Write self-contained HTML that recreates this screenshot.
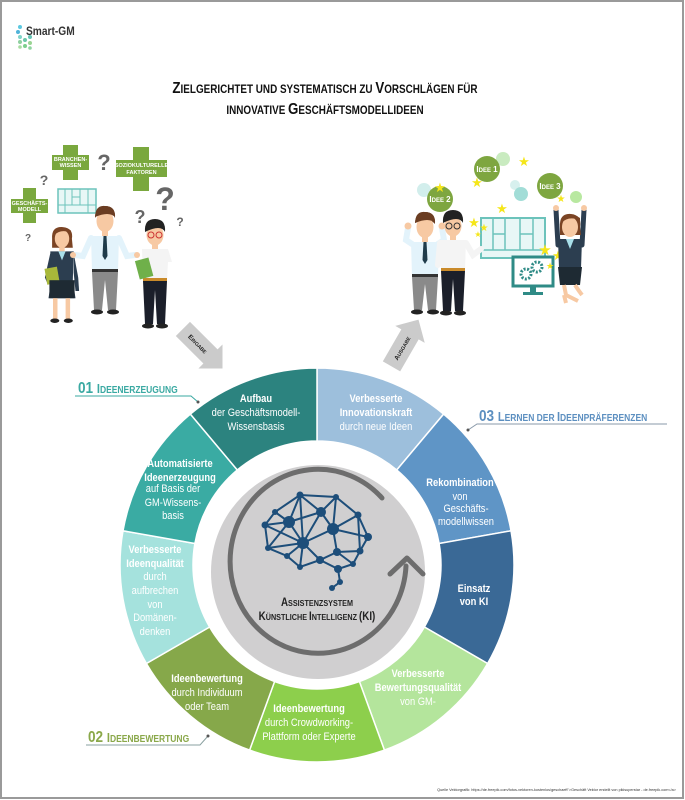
<!DOCTYPE html>
<html><head><meta charset="utf-8"><style>
html,body{margin:0;padding:0;background:#fff}
svg{display:block}
text{font-family:"Liberation Sans",sans-serif}
</style></head><body>
<svg width="685" height="800" viewBox="0 0 685 800" xmlns="http://www.w3.org/2000/svg">
<rect x="1" y="1" width="682" height="797" fill="#fff" stroke="#9a9a9a" stroke-width="2"/>

<!-- logo -->
<g>
<circle cx="20" cy="27" r="2" fill="#5cc8e0"/><circle cx="18" cy="32" r="2" fill="#4fb3d9"/>
<circle cx="20" cy="37" r="2" fill="#7fd4c8"/><circle cx="25" cy="40" r="2" fill="#6cc7a8"/>
<circle cx="20" cy="42" r="2" fill="#8fd0a0"/><circle cx="30" cy="37" r="2" fill="#66c4b5"/>
<circle cx="30" cy="43" r="2" fill="#9ad493"/><circle cx="25" cy="46" r="2" fill="#7ccf8d"/>
<circle cx="20" cy="47" r="1.8" fill="#a6dca0"/><circle cx="30" cy="48" r="1.8" fill="#8fd4a0"/>
<text x="26" y="35" font-size="12" font-weight="bold" fill="#333" transform="translate(26,0) scale(.85,1) translate(-26,0)">Smart-GM</text>
</g>

<!-- title -->
<g font-weight="bold" fill="#111" text-anchor="middle">
<text x="325" y="93" font-size="15.5" transform="translate(325,0) scale(.86,1) translate(-325,0)">Z<tspan font-size="11.5">IELGERICHTET UND SYSTEMATISCH ZU </tspan>V<tspan font-size="11.5">ORSCHLÄGEN FÜR</tspan></text>
<text x="325" y="114" font-size="15.5" transform="translate(325,0) scale(.86,1) translate(-325,0)"><tspan font-size="11.5">INNOVATIVE </tspan>G<tspan font-size="11.5">ESCHÄFTSMODELLIDEEN</tspan></text>
</g>

<!-- LEFT ILLUSTRATION -->
<g>
<!-- crosses -->
<g fill="#7aa83e">
<rect x="23" y="188" width="13" height="35"/><rect x="11" y="199" width="37" height="14"/>
<rect x="63" y="145" width="15" height="35"/><rect x="52" y="155" width="37" height="15"/>
<rect x="133" y="147" width="16" height="44"/><rect x="116" y="160" width="51" height="17"/>
</g>
<g fill="#fff" font-weight="bold" text-anchor="middle" font-size="5.5">
<text x="29.5" y="205">GESCHÄFTS-</text><text x="29.5" y="211">MODELL</text>
<text x="70.5" y="161">BRANCHEN-</text><text x="70.5" y="167">WISSEN</text>
<text x="141.5" y="167">SOZIOKULTURELLE</text><text x="141.5" y="174">FAKTOREN</text>
</g>
<!-- board -->
<rect x="58" y="189" width="38" height="24" fill="#e8f7f6" stroke="#6cc3bb" stroke-width="1.5"/>
<path d="M65,189V213M72,189V205M80,189V205M88,189V213M58,205H96M72,197H80" stroke="#6cc3bb" stroke-width="1" fill="none"/>
<!-- question marks -->
<g fill="#666" font-weight="bold" text-anchor="middle">
<text x="104" y="170" font-size="22">?</text>
<text x="44" y="185" font-size="14">?</text>
<text x="28" y="241" font-size="10">?</text>
<text x="165" y="210" font-size="32">?</text>
<text x="140" y="223" font-size="18">?</text>
<text x="180" y="226" font-size="12">?</text>
</g>
<!-- woman -->
<g transform="translate(62,228) scale(.9)">
<path d="M-11,12 Q-12,-2 1,-1 Q13,0 11,12 L12,22 L-11,22Z" fill="#7b4424"/>
<ellipse cx="0" cy="12" rx="8" ry="10" fill="#f7c9a3"/>
<path d="M-9,8 Q0,0 10,6 L10,3 Q0,-4 -9,4Z" fill="#7b4424"/>
<rect x="-3" y="20" width="6" height="6" fill="#f7c9a3"/>
<path d="M-13,26 L13,26 L12,58 L15,78 L-15,78 L-12,58Z" fill="#2c3e50"/>
<path d="M-4,26 L4,26 L0,36Z" fill="#a9e0ea"/>
<path d="M-13,28 L-19,55 L-16,62 L-10,40Z" fill="#2c3e50"/>
<path d="M13,28 L18,55 L19,70 L15,70 L13,50Z" fill="#2c3e50"/>
<rect x="-18" y="44" width="14" height="18" fill="#a8b83a" transform="rotate(-10 -11 53)"/>
<rect x="-14" y="58" width="28" height="20" fill="#1e2a33"/>
<rect x="-10" y="78" width="5" height="24" fill="#f7c9a3"/><rect x="4" y="78" width="5" height="24" fill="#f7c9a3"/>
<ellipse cx="-8" cy="103" rx="5" ry="2.5" fill="#222"/><ellipse cx="7" cy="103" rx="5" ry="2.5" fill="#222"/>
</g>
<!-- man shrugging -->
<g transform="translate(105,208)">
<path d="M-10,10 Q-10,-3 0,-2 Q11,-2 10,10 L8,6 Q0,3 -8,7Z" fill="#6b3d22"/>
<ellipse cx="0" cy="13" rx="8.5" ry="11" fill="#f7c9a3"/>
<path d="M-10,9 Q-9,-2 0,-2 Q10,-2 10,9 Q4,3 -10,9Z" fill="#6b3d22"/>
<rect x="-3" y="23" width="6" height="5" fill="#f7c9a3"/>
<path d="M-14,28 L14,28 L13,63 L-13,63Z" fill="#e3f3fb"/>
<path d="M-14,30 L-22,48 L-30,47" stroke="#e3f3fb" stroke-width="6" fill="none" stroke-linecap="round"/>
<path d="M14,30 L22,48 L30,47" stroke="#e3f3fb" stroke-width="6" fill="none" stroke-linecap="round"/>
<circle cx="-32" cy="47" r="3" fill="#f7c9a3"/><circle cx="32" cy="47" r="3" fill="#f7c9a3"/>
<path d="M-1.5,28 L1.5,28 L2.5,48 L0,52 L-2.5,48Z" fill="#1f3b4a"/>
<rect x="-13" y="61" width="26" height="3" fill="#333"/>
<path d="M-13,64 L13,64 L11,102 L3,102 L0,72 L-3,102 L-11,102Z" fill="#8a8a8a"/>
<ellipse cx="-8" cy="104" rx="6" ry="2.5" fill="#222"/><ellipse cx="8" cy="104" rx="6" ry="2.5" fill="#222"/>
</g>
<!-- man with glasses -->
<g transform="translate(155,222)">
<ellipse cx="0" cy="13" rx="8.5" ry="10.5" fill="#f7c9a3"/>
<path d="M-10,10 Q-11,-3 0,-3 Q11,-3 10,10 Q6,2 -10,10Z" fill="#222"/>
<circle cx="-4" cy="13" r="3" fill="none" stroke="#c33" stroke-width="1"/><circle cx="4" cy="13" r="3" fill="none" stroke="#c33" stroke-width="1"/>
<rect x="-3" y="22" width="6" height="5" fill="#f7c9a3"/>
<path d="M-13,27 L13,27 L17,40 L13,40 L12,58 L-12,58Z" fill="#f4f4f4"/>
<rect x="-12" y="56" width="24" height="3" fill="#c98a2a"/>
<rect x="-18" y="37" width="14" height="19" fill="#6fb04a" transform="rotate(-15 -11 46)"/>
<path d="M-12,59 L12,59 L10,102 L2,102 L0,68 L-2,102 L-10,102Z" fill="#1b1f2a"/>
<ellipse cx="-7" cy="104" rx="6" ry="2.5" fill="#222"/><ellipse cx="7" cy="104" rx="6" ry="2.5" fill="#222"/>
</g>
<!-- Eingabe arrow -->
<g transform="translate(202,348) rotate(45)">
<path d="M-27,-10 L12,-10 L12,-17 L29,0 L12,17 L12,10 L-27,10Z" fill="#cbcbcb"/>
<text x="-6" y="2.5" font-size="6.5" font-weight="bold" fill="#222" text-anchor="middle">E<tspan font-size="5">INGABE</tspan></text>
</g>
</g>

<!-- RIGHT ILLUSTRATION -->
<g>
<circle cx="503" cy="159" r="7" fill="#c9ebc0"/>
<circle cx="424" cy="190" r="7" fill="#d2eeec"/>
<circle cx="515" cy="185" r="5" fill="#d7f0ee"/>
<circle cx="521" cy="194" r="7" fill="#a2ddd7"/>
<circle cx="576" cy="197" r="6" fill="#b8e8a0"/>
<g fill="#7ea640"><circle cx="487" cy="169" r="13"/><circle cx="440" cy="199" r="13"/><circle cx="550" cy="186" r="13"/></g>
<g fill="#fff" font-weight="bold" font-size="8" text-anchor="middle">
<text x="487" y="172">I<tspan font-size="6">DEE</tspan> 1</text>
<text x="440" y="202">I<tspan font-size="6">DEE</tspan> 2</text>
<text x="550" y="189">I<tspan font-size="6">DEE</tspan> 3</text>
</g>
<!-- board -->
<rect x="481" y="218" width="64" height="40" fill="#e8f7f6" stroke="#6cc3bb" stroke-width="2"/>
<path d="M493,218V250M505,218V250M520,218V250M533,218V250M481,250H545M493,234H505M520,234H533" stroke="#6cc3bb" stroke-width="1.5" fill="none"/>
<!-- monitor -->
<rect x="513" y="257" width="40" height="29" fill="#fff" stroke="#2f8b86" stroke-width="3"/>
<rect x="530" y="286" width="6" height="6" fill="#2f8b86"/><rect x="523" y="292" width="20" height="3" fill="#2f8b86"/>
<circle cx="526" cy="274" r="5" fill="none" stroke="#2f8b86" stroke-width="3" stroke-dasharray="2 1.5"/>
<circle cx="537" cy="267" r="5" fill="none" stroke="#2f8b86" stroke-width="3" stroke-dasharray="2 1.5"/>
<!-- stars -->
<g fill="#f5e619" font-size="13" text-anchor="middle">
<text x="524" y="166">★</text><text x="477" y="187">★</text><text x="440" y="192">★</text>
<text x="502" y="213">★</text><text x="474" y="227">★</text><text x="484" y="231" font-size="10">★</text>
<text x="478" y="237" font-size="8">★</text><text x="561" y="202" font-size="10">★</text>
<text x="545" y="255" font-size="15">★</text><text x="558" y="260" font-size="13">★</text><text x="550" y="269" font-size="9">★</text>
</g>
<!-- man arms up -->
<g transform="translate(425,214)">
<path d="M-10,10 Q-10,-3 0,-2 Q11,-2 10,10 Q4,3 -10,9Z" fill="#6b3d22"/>
<ellipse cx="0" cy="13" rx="8.5" ry="11" fill="#f7c9a3"/>
<path d="M-10,9 Q-9,-2 0,-2 Q10,-2 10,9 Q4,3 -10,9Z" fill="#6b3d22"/>
<rect x="-3" y="23" width="6" height="5" fill="#f7c9a3"/>
<path d="M-14,28 L14,28 L13,62 L-13,62Z" fill="#e3f3fb"/>
<path d="M-13,30 L-19,26 L-17,14" stroke="#e3f3fb" stroke-width="6" fill="none" stroke-linecap="round"/>
<path d="M13,30 L19,26 L17,14" stroke="#e3f3fb" stroke-width="6" fill="none" stroke-linecap="round"/>
<circle cx="-17" cy="12" r="3.5" fill="#f7c9a3"/><circle cx="17" cy="12" r="3.5" fill="#f7c9a3"/>
<path d="M-1.5,28 L1.5,28 L2.5,46 L0,50 L-2.5,46Z" fill="#1f3b4a"/>
<rect x="-13" y="60" width="26" height="3" fill="#333"/>
<path d="M-13,63 L13,63 L11,96 L3,96 L0,70 L-3,96 L-11,96Z" fill="#8a8a8a"/>
<ellipse cx="-8" cy="98" rx="6" ry="2.5" fill="#222"/><ellipse cx="8" cy="98" rx="6" ry="2.5" fill="#222"/>
</g>
<!-- man glasses 2 -->
<g transform="translate(453,213)">
<ellipse cx="0" cy="13" rx="8.5" ry="10.5" fill="#f7c9a3"/>
<path d="M-10,10 Q-11,-3 0,-3 Q11,-3 10,10 Q6,2 -10,10Z" fill="#222"/>
<circle cx="-4" cy="13" r="3" fill="none" stroke="#333" stroke-width="1"/><circle cx="4" cy="13" r="3" fill="none" stroke="#333" stroke-width="1"/>
<rect x="-3" y="22" width="6" height="5" fill="#f7c9a3"/>
<path d="M-13,27 L13,27 L12,57 L-12,57Z" fill="#f4f4f4"/>
<path d="M13,30 L20,42 L28,36" stroke="#f4f4f4" stroke-width="6" fill="none" stroke-linecap="round"/>
<path d="M-13,30 L-15,52" stroke="#f4f4f4" stroke-width="6" fill="none" stroke-linecap="round"/>
<rect x="-12" y="55" width="24" height="3" fill="#c98a2a"/>
<path d="M-12,58 L12,58 L10,98 L2,98 L0,66 L-2,98 L-10,98Z" fill="#1b1f2a"/>
<ellipse cx="-7" cy="100" rx="6" ry="2.5" fill="#222"/><ellipse cx="7" cy="100" rx="6" ry="2.5" fill="#222"/>
</g>
<!-- jumping woman -->
<g transform="translate(570,215)">
<path d="M-14,-5 L-12,30" stroke="#2c3e50" stroke-width="5" stroke-linecap="round"/>
<path d="M14,-5 L12,30" stroke="#2c3e50" stroke-width="5" stroke-linecap="round"/>
<circle cx="-14" cy="-7" r="3" fill="#f7c9a3"/><circle cx="14" cy="-7" r="3" fill="#f7c9a3"/>
<path d="M-10,12 Q-11,-2 1,-1 Q12,0 10,12 L11,20 L-10,20Z" fill="#7b4424"/>
<ellipse cx="0" cy="12" rx="8" ry="10" fill="#f7c9a3"/>
<path d="M-9,8 Q0,0 10,6 L10,3 Q0,-4 -9,4Z" fill="#7b4424"/>
<path d="M-12,24 L12,24 L11,54 L-11,54Z" fill="#2c3e50"/>
<path d="M-4,24 L4,24 L0,34Z" fill="#a9e0ea"/>
<path d="M-12,52 L12,52 L10,70 L-10,70Z" fill="#1e2a33"/>
<path d="M-6,70 L-4,80 L8,86" stroke="#f7c9a3" stroke-width="4" fill="none"/>
<path d="M5,70 L9,76 L12,80" stroke="#f7c9a3" stroke-width="4" fill="none"/>
<path d="M-6,80 L-4,88" stroke="#f7c9a3" stroke-width="4"/>
</g>
<!-- Ausgabe arrow -->
<g transform="translate(405,343) rotate(-60)">
<path d="M-27,-10 L10,-10 L10,-17 L27,0 L10,17 L10,10 L-27,10Z" fill="#cbcbcb"/>
<text x="-6" y="2.5" font-size="6.5" font-weight="bold" fill="#222" text-anchor="middle">A<tspan font-size="5">USGABE</tspan></text>
</g>
</g>

<!-- RING -->
<g transform="translate(317,565)" stroke="#fff" stroke-width="1.5">
<path d="M0,-197 A197,197 0 0 1 126.6,-150.9 L79.7,-95 A124,124 0 0 0 0,-124Z" fill="#9dbfdc"/>
<path d="M126.6,-150.9 A197,197 0 0 1 194,-34.2 L122.1,-21.5 A124,124 0 0 0 79.7,-95Z" fill="#5f95c6"/>
<path d="M194,-34.2 A197,197 0 0 1 170.6,98.5 L107.4,62 A124,124 0 0 0 122.1,-21.5Z" fill="#3a6996"/>
<path d="M170.6,98.5 A197,197 0 0 1 67.4,185.1 L42.4,116.5 A124,124 0 0 0 107.4,62Z" fill="#b4e59c"/>
<path d="M67.4,185.1 A197,197 0 0 1 -67.4,185.1 L-42.4,116.5 A124,124 0 0 0 42.4,116.5Z" fill="#8dcf4c"/>
<path d="M-67.4,185.1 A197,197 0 0 1 -170.6,98.5 L-107.4,62 A124,124 0 0 0 -42.4,116.5Z" fill="#86a84a"/>
<path d="M-170.6,98.5 A197,197 0 0 1 -194,-34.2 L-122.1,-21.5 A124,124 0 0 0 -107.4,62Z" fill="#a5e2dd"/>
<path d="M-194,-34.2 A197,197 0 0 1 -126.6,-150.9 L-79.7,-95 A124,124 0 0 0 -122.1,-21.5Z" fill="#3aaba3"/>
<path d="M-126.6,-150.9 A197,197 0 0 1 0,-197 L0,-124 A124,124 0 0 0 -79.7,-95Z" fill="#2c837f"/>
</g>
<circle cx="318" cy="572" r="107" fill="#d0cfd0"/>
<!-- circular arrow -->
<path d="M382,498 A88,92 0 1 0 406,566" fill="none" stroke="#6d6d6d" stroke-width="5" stroke-linecap="round"/>
<path d="M390,574 L407,558 L423,574" fill="none" stroke="#6d6d6d" stroke-width="5" stroke-linecap="round" stroke-linejoin="round"/>

<!-- brain -->
<g stroke="#1d4e7a" stroke-width="2" fill="none">
<path d="M300,495L336,497L358,515L368,537L360,551L353,564L338,569L340,582L332,588 M300,495L275,512L265,525L268,548L287,556L300,567L320,560L338,569 M300,495L289,522L303,543L320,560L337,552L353,564 M300,495L321,512L336,497 M321,512L333,529L358,515 M275,512L289,522L265,525 M289,522L321,512 M303,543L333,529L337,552L360,551L368,537L333,529 M268,548L303,543L287,556 M265,525L303,543 M336,497L333,529 M303,543L300,567 M320,560L338,569 M358,515L360,551 M300,495L303,543 M289,522L268,548 M321,512L303,543"/>
</g>
<g fill="#1d4e7a">
<circle cx="300" cy="495" r="3.5"/><circle cx="336" cy="497" r="3"/><circle cx="275" cy="512" r="3"/>
<circle cx="321" cy="512" r="5"/><circle cx="289" cy="522" r="6"/><circle cx="358" cy="515" r="3.5"/>
<circle cx="265" cy="525" r="3.5"/><circle cx="333" cy="529" r="6"/><circle cx="368" cy="537" r="4"/>
<circle cx="303" cy="543" r="6"/><circle cx="268" cy="548" r="3"/><circle cx="287" cy="556" r="3"/>
<circle cx="337" cy="552" r="4"/><circle cx="360" cy="551" r="3.5"/><circle cx="320" cy="560" r="4"/>
<circle cx="300" cy="567" r="3"/><circle cx="353" cy="564" r="3"/><circle cx="338" cy="569" r="4"/>
<circle cx="340" cy="582" r="3"/><circle cx="332" cy="588" r="3"/>
</g>
<g font-weight="bold" fill="#222" text-anchor="middle">
<text x="317" y="606" font-size="11.5" transform="translate(317,0) scale(.85,1) translate(-317,0)">A<tspan font-size="8.5">SSISTENZSYSTEM</tspan></text>
<text x="317" y="620" font-size="11.5" transform="translate(317,0) scale(.85,1) translate(-317,0)">K<tspan font-size="8.5">ÜNSTLICHE </tspan>I<tspan font-size="8.5">NTELLIGENZ </tspan>(KI)</text>
</g>

<!-- segment texts -->
<g fill="#fff" text-anchor="middle" font-size="11">
<g transform="translate(256,0) scale(.85,1)"><text x="0" y="402" font-weight="bold">Aufbau</text><text x="0" y="416">der Geschäftsmodell-</text><text x="0" y="430">Wissensbasis</text></g>
<g transform="translate(376,0) scale(.85,1)"><text x="0" y="402" font-weight="bold">Verbesserte</text><text x="0" y="416" font-weight="bold">Innovationskraft</text><text x="0" y="430">durch neue Ideen</text></g>
<g transform="translate(180,0) scale(.85,1)"><text x="0" y="467" font-weight="bold">Automatisierte</text><text x="0" y="481" font-weight="bold">Ideenerzeugung</text></g>
<g transform="translate(173,0) scale(.85,1)"><text x="0" y="492">auf Basis der</text><text x="0" y="506">GM-Wissens-</text><text x="0" y="519">basis</text></g>
<g transform="translate(460,0) scale(.85,1)"><text x="0" y="486" font-weight="bold">Rekombination</text><text x="0" y="500">von</text></g>
<g transform="translate(466,0) scale(.85,1)"><text x="0" y="512">Geschäfts-</text><text x="0" y="525">modellwissen</text></g>
<g transform="translate(155,0) scale(.85,1)"><text x="0" y="553" font-weight="bold">Verbesserte</text><text x="0" y="567" font-weight="bold">Ideenqualität</text><text x="0" y="580">durch</text><text x="0" y="594">aufbrechen</text><text x="0" y="608">von</text><text x="0" y="621">Domänen-</text><text x="0" y="635">denken</text></g>
<g transform="translate(474,0) scale(.85,1)"><text x="0" y="592" font-weight="bold">Einsatz</text><text x="0" y="605" font-weight="bold">von KI</text></g>
<g transform="translate(207,0) scale(.85,1)"><text x="0" y="682" font-weight="bold">Ideenbewertung</text><text x="0" y="696">durch Individuum</text><text x="0" y="710">oder Team</text></g>
<g transform="translate(309,0) scale(.85,1)"><text x="0" y="712" font-weight="bold">Ideenbewertung</text><text x="0" y="726">durch Crowdworking-</text><text x="0" y="740">Plattform oder Experte</text></g>
<g transform="translate(418,0) scale(.85,1)"><text x="0" y="677" font-weight="bold">Verbesserte</text><text x="0" y="691" font-weight="bold">Bewertungsqualität</text><text x="0" y="705">von GM-</text></g>
</g>

<!-- phase labels -->
<g font-weight="bold">
<g fill="#3aa9a2"><text x="78" y="393" font-size="16" transform="translate(78,0) scale(.85,1) translate(-78,0)">01 <tspan font-size="13">I</tspan><tspan font-size="10">DEENERZEUGUNG</tspan></text></g>
<path d="M75,396H191L198,402" stroke="#3aa9a2" stroke-width="1" fill="none"/><circle cx="198" cy="402" r="1.5" fill="#555"/>
<g fill="#5c8fc0"><text x="479" y="421" font-size="16" transform="translate(479,0) scale(.85,1) translate(-479,0)">03 <tspan font-size="13">L</tspan><tspan font-size="10">ERNEN DER </tspan><tspan font-size="13">I</tspan><tspan font-size="10">DEENPRÄFERENZEN</tspan></text></g>
<path d="M667,424H477L468,430" stroke="#8a9aaa" stroke-width="1" fill="none"/><circle cx="468" cy="430" r="1.5" fill="#555"/>
<g fill="#8aa84a"><text x="88" y="742" font-size="16" transform="translate(88,0) scale(.85,1) translate(-88,0)">02 <tspan font-size="13">I</tspan><tspan font-size="10">DEENBEWERTUNG</tspan></text></g>
<path d="M86,745H200L208,736" stroke="#8aa0a0" stroke-width="1" fill="none"/><circle cx="208" cy="736" r="1.5" fill="#555"/>
</g>

<text x="676" y="791" font-size="3.8" fill="#333" text-anchor="end">Quelle Vektorgrafik: https://de.freepik.com/fotos-vektoren-kostenlos/geschaeft"&gt;Geschäft Vektor erstellt von pikisuperstar - de.freepik.com&lt;/a&gt;</text>
</svg>
</body></html>
